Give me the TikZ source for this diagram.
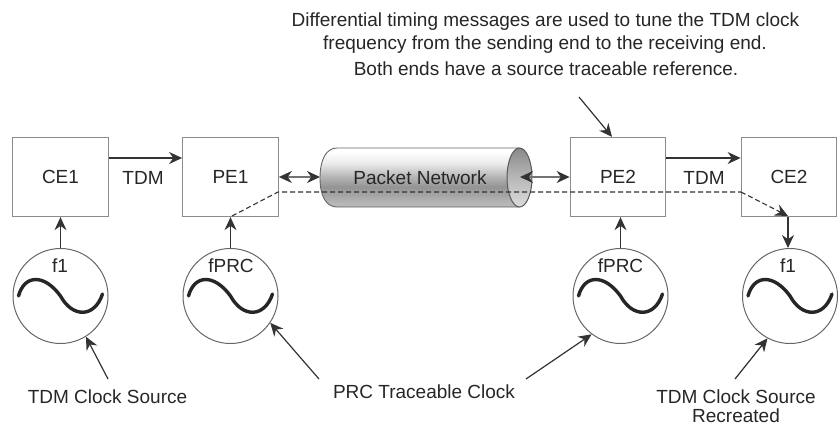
\documentclass[tikz,border=0pt]{standalone}
\usepackage{fontspec}
\setmainfont{Liberation Sans}
\usetikzlibrary{arrows.meta}
\definecolor{boxc}{gray}{0.55}
\definecolor{linec}{gray}{0.2}
\pgfdeclareverticalshading{cyl}{100bp}{
 color(0bp)=(black!30); color(28bp)=(black!28); color(42bp)=(black!42); color(50bp)=(black!30);
 color(62bp)=(black!8); color(72bp)=(white); color(86bp)=(white); color(95bp)=(black!25); color(100bp)=(black!55)}
\pgfdeclareverticalshading{cylend}{100bp}{
 color(0bp)=(black!10); color(25bp)=(black!14); color(50bp)=(black!28); color(80bp)=(black!50); color(100bp)=(black!55)}
\tikzset{
 block/.style={draw=boxc,line width=1.3pt,minimum width=95.5pt,minimum height=79pt,inner sep=0pt,font=\fontsize{19}{22}\selectfont,text=black!85},
 osc/.style={circle,draw=black!60,line width=1pt,minimum size=95pt,inner sep=0pt},
 lbl/.style={inner sep=0pt,font=\fontsize{19}{22}\selectfont,text=black!85,align=center},
 arr/.style={draw=linec,line width=1.2pt,-{Stealth[length=13pt,width=12pt]}},
 dbl/.style={draw=black!55,line width=1.3pt,{Stealth[length=13pt,width=12pt,color=linec]}-{Stealth[length=13pt,width=12pt,color=linec]}},
 dashline/.style={draw=linec,line width=1.1pt,dash pattern=on 5pt off 3pt},
 sine/.style={draw=black!85,line width=3.4pt,line cap=round}
}
\newcommand{\sinewave}[1]{%
 \draw[sine] ([shift={(-42,0)}]#1.center) .. controls +(6,-22) and +(-16,-22) .. ([shift={(0,0)}]#1.center)
   .. controls +(12,22) and +(-8,24) .. ([shift={(42,-2)}]#1.center);}
\begin{document}
\begin{tikzpicture}[x=1pt,y=-1pt]
\useasboundingbox (0,0) rectangle (840,428);
% network cylinder
\path[shading=cyl] (519,148) -- (337,148) .. controls (326,148) and (320,160) .. (320,178) .. controls (320,196) and (326,207) .. (337,207) -- (519,207) .. controls (526,207) and (532,194) .. (532,178) .. controls (532,162) and (526,148) .. (519,148) -- cycle;
\draw[black!60,line width=0.9pt] (519,148) -- (337,148) .. controls (326,148) and (320,160) .. (320,178) .. controls (320,196) and (326,207) .. (337,207) -- (519,207);
\draw[black!65,line width=1pt,shading=cylend] (519.5,177.5) ellipse [x radius=12.5, y radius=29.5];
\node[lbl] (net) at (420,178) {Packet Network};
% blocks
\node[block] (ce1) at (60.5,177) {CE1};
\node[block] (pe1) at (230.5,177) {PE1};
\node[block] (pe2) at (618,177) {PE2};
\node[block] (ce2) at (789,177) {CE2};
\coordinate (nl) at (320,177);
\coordinate (nr) at (520,177);
% oscillators
\node[osc] (o1) at (60.5,296) {};
\node[osc] (o2) at (230.5,296) {};
\node[osc] (o3) at (620.5,296) {};
\node[osc] (o4) at (790,296) {};
\foreach \n in {o1,o2,o3,o4}{\sinewave{\n}}
\node[lbl] (t1) at (60,266) {f1};
\node[lbl] (t2) at (231,266) {fPRC};
\node[lbl] (t3) at (620.5,266) {fPRC};
\node[lbl] (t4) at (788,266) {f1};
% links
\draw[arr] (ce1.east |- 0,158) -- (pe1.west |- 0,158);
\draw[arr] (pe2.east |- 0,158) -- (ce2.west |- 0,158);
\node[lbl] (tdm1) at (143,178) {TDM};
\node[lbl] (tdm2) at (704,178) {TDM};
\draw[dbl] (pe1.east |- nl) -- (nl);
\draw[dbl] (nr) -- (pe2.west |- nr);
\draw[arr] (o1.north) -- (ce1.south);
\draw[arr] (o2.north) -- (pe1.south);
\draw[arr] (o3.north) -- (o3.north |- pe2.south);
\draw[arr] (ce2.south -| 788,0) -- (o4.north -| 788,0);
% dashed timing path
\coordinate (ds) at (232,216);
\coordinate (dm) at (278,192);
\coordinate (de) at (741,192);
\coordinate (dt) at (788,216);
\draw[dashline] (ds) -- (dm) -- (de);
\draw[dashline,-{Stealth[length=13pt,width=12pt,color=linec]}] (de) -- (dt);
% captions
\node[lbl] (cap1) at (545.5,22) {Differential timing messages are used to tune the TDM clock};
\node[lbl] (cap2) at (545,45) {frequency from the sending end to the receiving end.};
\node[lbl] (cap3) at (546,69) {Both ends have a source traceable reference.};
\coordinate (cs) at (579,97);
\draw[arr] (cs) -- (pe2.north -| 612,0);
\node[lbl] (src) at (107.5,397) {TDM Clock Source};
\node[lbl] (prc) at (424,392) {PRC Traceable Clock};
\node[lbl] (rec1) at (736,397) {TDM Clock Source};
\node[lbl] (rec2) at (736,416) {Recreated};
\coordinate (a1) at (108,379);
\coordinate (a2) at (319,379);
\coordinate (a3) at (526,379);
\coordinate (a4) at (735,379);
\draw[arr] (a1) -- (o1.-58);
\draw[arr] (a2) -- (o2.-34);
\draw[arr] (a3) -- (o3.-127);
\draw[arr] (a4) -- (o4.-118);
\end{tikzpicture}
\end{document}
